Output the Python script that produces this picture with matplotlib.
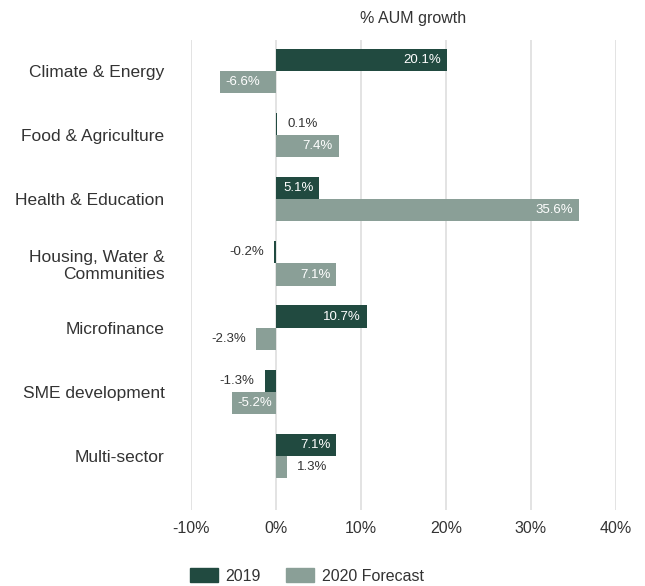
import numpy as np
import matplotlib
matplotlib.use("Agg")
from matplotlib import pyplot as plt
from matplotlib.patches import Patch

plt.rcParams['font.family'] = ['Liberation Sans', 'DejaVu Sans']

# data
categories = ['Climate & Energy', 'Food & Agriculture', 'Health & Education',
              'Housing, Water &\nCommunities', 'Microfinance', 'SME development',
              'Multi-sector']
growth_2019 = [20.1, 0.1, 5.1, -0.2, 10.7, -1.3, 7.1]
growth_2020 = [-6.6, 7.4, 35.6, 7.1, -2.3, -5.2, 1.3]
xticks = [-10, 0, 10, 20, 30, 40]
series_names = ['2019', '2020 Forecast']

dark = '#214a40'
light = '#8a9f97'
txt = '#333333'

fig = plt.figure(figsize=(6.45, 5.86), dpi=100)
ax = fig.add_axes([191/645, 76/586, 425/645, 470/586])

y = np.arange(len(categories))
h = 0.345
ax.barh(y - h/2, growth_2019, height=h, color=dark, zorder=3)
ax.barh(y + h/2, growth_2020, height=h, color=light, zorder=3)


def put_labels(vals, offs):
    for yi, v in zip(y, vals):
        s = f'{v:.1f}%'
        if abs(v) >= 4:
            # inside the bar, white
            if v > 0:
                ax.text(v - 0.7, yi + offs, s, ha='right', va='center',
                        color='white', fontsize=9.5, zorder=4)
            else:
                ax.text(v + 0.7, yi + offs, s, ha='left', va='center',
                        color='white', fontsize=9.5, zorder=4)
        else:
            if v >= 0:
                ax.text(v + 1.2, yi + offs, s, ha='left', va='center',
                        color=txt, fontsize=9.5, zorder=4)
            else:
                ax.text(v - 1.2, yi + offs, s, ha='right', va='center',
                        color=txt, fontsize=9.5, zorder=4)


put_labels(growth_2019, -h/2)
put_labels(growth_2020, h/2)

ax.set_xlim(-10, 40)
ax.set_ylim(6.84, -0.48)
ax.set_xticks(xticks)
ax.set_xticklabels([f'{t}%' for t in xticks])
ax.set_yticks(y)
ax.set_yticklabels(categories)
ax.tick_params(length=0, labelsize=11.5, colors=txt)
ax.tick_params(axis='y', pad=19, labelsize=12.5)
ax.tick_params(axis='x', pad=8)
for lab in ax.get_yticklabels():
    lab.set_multialignment('right')
ax.grid(axis='x', color='#e0e0e0', linewidth=1.3, zorder=0)
for sp in ax.spines.values():
    sp.set_visible(False)

fig.text(413/645, 1 - 18/586, '% AUM growth', ha='center', va='center',
         fontsize=11.5, color=txt)

handles = [Patch(color=dark), Patch(color=light)]
fig.legend(handles, series_names, loc='center', bbox_to_anchor=(307/645, 1 - 576/586),
           ncol=2, frameon=False, fontsize=11.5, handlelength=1.7, handleheight=0.9,
           columnspacing=1.6, handletextpad=0.5, labelcolor=txt)

fig.savefig('out.png', dpi=100)
